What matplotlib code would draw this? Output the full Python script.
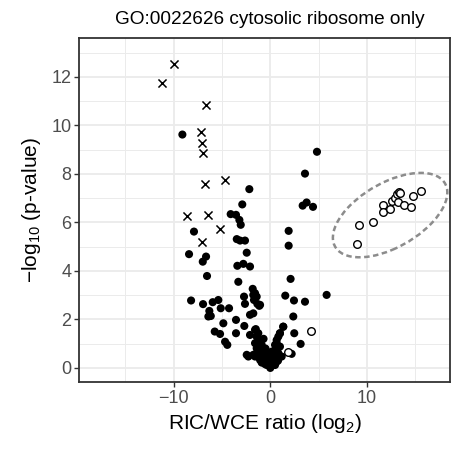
import matplotlib
matplotlib.use("Agg")
import matplotlib.pyplot as plt
from matplotlib.patches import Ellipse
from matplotlib.ticker import MultipleLocator

plt.rcParams['font.family'] = ['Liberation Sans', 'DejaVu Sans']
plt.rcParams['mathtext.fontset'] = 'custom'
plt.rcParams['mathtext.rm'] = 'Liberation Sans'
plt.rcParams['mathtext.it'] = 'Liberation Sans'

title = "GO:0022626 cytosolic ribosome only"
xlabel = "RIC/WCE ratio (log$_2$)"
ylabel = "\u2212log$_{10}$ (p-value)"

# other proteins (filled)
filled_x = [-9.1, -2.17, -2.9, -4.1, -3.55, -3.2, -3.06, -7.9, -3.47, -3.13, -2.62, -2.44,
            -8.41, -6.65, -6.99, -3.41, -2.79, -2.1, -6.55, -3.31, -1.82, -1.58, -1.41, -1.76,
            -2.72, -2.62, -1.06, -1.69, -1.34, -1.14, -8.2, -6.96, -5.96, -5.38, -5.13, -4.27,
            -6.31, -6.16, -6.41, -4.86, -5.75, -5.2, -4.68, -4.45, -3.55, -3.55, -2.69, -2.1,
            -1.76, -2.1, -1.41, -1.58, -1.24, -1.06, -2.44, -1.58, -0.89, -0.37, 0.0, -1.06,
            -0.89, -0.55, -1.5, -0.7, -0.5, -0.3, -1.3, -0.2, -1.58, -1.24, -1.06, -0.89,
            -1.41, -0.72, -0.37, 0.0, -1.76, -2.27, 1.0, 1.34, 0.66, 0.49, 0.14, 0.0,
            4.83, 3.59, 3.35, 3.76, 4.42, 1.9, 1.9, 2.1, 1.55, 2.45, 3.59, 5.83, 2.38, 1.34,
            1.0, 0.83, 2.48, 3.14, 2.21, 0.66, 0.49, 0.31, 0.14, 1.0, 0.83, 1.18, 0.66, 0.49,
            -0.1, 0.2, 0.35, -0.2, 0.1, -0.5, 0.6, 0.4, -0.7, 0.8]
filled_y = [9.62, 7.37, 6.74, 6.34, 6.31, 6.10, 5.90, 5.62, 5.31, 5.25, 5.25, 4.75,
            4.69, 4.59, 4.38, 4.21, 4.29, 4.18, 3.79, 3.55, 3.26, 3.08, 2.94, 3.01,
            2.94, 2.64, 2.60, 2.80, 2.64, 2.56, 2.78, 2.63, 2.71, 2.80, 2.46, 2.46,
            2.35, 2.14, 2.12, 1.84, 1.50, 1.40, 1.08, 0.95, 1.98, 1.43, 1.73, 2.19,
            2.25, 1.36, 1.29, 1.02, 0.95, 0.61, 0.54, 0.47, 0.26, 0.12, 0.0, 0.33,
            0.22, 0.16, 1.6, 1.2, 0.8, 0.5, 0.7, 0.3, 1.57, 1.43, 1.15, 0.95,
            0.81, 0.74, 0.54, 0.40, 0.54, 0.47, 1.43, 1.70, 1.15, 0.95, 0.67, 0.47,
            8.91, 8.01, 6.69, 6.82, 6.64, 5.65, 5.04, 3.67, 2.98, 2.78, 2.73, 3.01, 2.12, 1.70,
            1.43, 1.29, 1.43, 0.99, 0.58, 1.02, 0.74, 0.47, 0.26, 0.88, 0.61, 0.47, 0.26, 0.12,
            0.1, 0.15, 0.2, 0.2, 0.35, 0.4, 0.5, 0.35, 0.5, 0.3]

# cytosolic ribosome (open)
open_x = [9.14, 8.97, 10.65, 11.69, 11.69, 12.38, 12.55, 12.9, 13.13, 13.34, 13.41, 13.17,
          13.83, 14.52, 14.73, 15.58, 4.21, 1.86]
open_y = [5.88, 5.09, 6.01, 6.71, 6.43, 6.56, 6.89, 7.02, 7.16, 7.27, 7.20, 6.83,
          6.73, 6.63, 7.09, 7.29, 1.53, 0.67]

# crosses
cross_x = [-9.93, -11.23, -6.65, -7.13, -7.1, -6.93, -6.79, -4.65, -8.65, -6.41, -5.2, -7.1]
cross_y = [12.52, 11.74, 10.82, 9.74, 9.27, 8.85, 7.6, 7.75, 6.27, 6.32, 5.73, 5.21]

# highlight ellipse (center, semi-axes, angle in data units)
ell_center = (12.4, 6.3)
ell_a, ell_b, ell_angle = 6.0, 1.45, 9.5

x_ticks = [-10, 0, 10]
y_ticks = [0, 2, 4, 6, 8, 10, 12]

fig = plt.figure(figsize=(4.56, 4.54), dpi=100)
ax = fig.add_axes([79/456, 1-382/454, (450-79)/456, (382-38)/454])

ax.set_xlim(-19.8, 18.6)
ax.set_ylim(-0.58, 13.6)
ax.set_xticks(x_ticks)
ax.set_yticks(y_ticks)
ax.xaxis.set_minor_locator(MultipleLocator(5))
ax.yaxis.set_minor_locator(MultipleLocator(1))
ax.grid(True, which='major', color='#ebebeb', lw=1.3, zorder=0)
ax.grid(True, which='minor', color='#ebebeb', lw=0.7, zorder=0)
ax.set_axisbelow(True)
ax.tick_params(which='minor', length=0)
ax.tick_params(which='major', length=3.5, width=1.0, color='#333333',
               labelsize=13, labelcolor='#4d4d4d', pad=2)
for s in ax.spines.values():
    s.set_color('#333333')
    s.set_linewidth(1.3)

ax.scatter(filled_x, filled_y, s=34, c='black', edgecolors='none', zorder=3)
ax.scatter(open_x, open_y, s=30, facecolors='white', edgecolors='black', linewidths=1.0, zorder=4)
ax.scatter(cross_x, cross_y, s=34, marker='x', c='black', linewidths=1.1, zorder=4)

ax.add_patch(Ellipse(ell_center, 2*ell_a, 2*ell_b, angle=ell_angle, fill=False,
                     edgecolor='#8c8c8c', lw=1.8, ls=(0, (2.2, 1.4)), zorder=5))

ax.set_xlabel(xlabel, fontsize=15, color='black', labelpad=4)
ax.set_ylabel(ylabel, fontsize=15, color='black', labelpad=6)
fig.text(270/456, 1-20/454, title, ha='center', va='center', fontsize=13.7)

fig.savefig("out.png", dpi=100)
